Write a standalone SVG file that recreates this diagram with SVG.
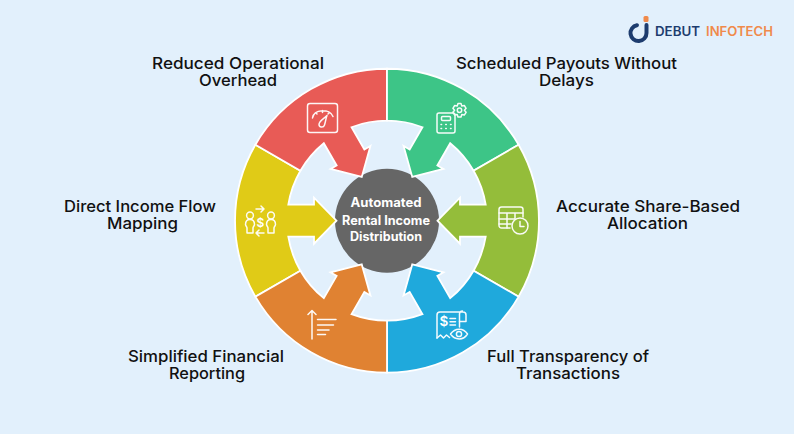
<svg xmlns="http://www.w3.org/2000/svg" width="794" height="434" viewBox="0 0 794 434">
<style>
.seg{stroke:#fff;stroke-width:1.8;stroke-linejoin:miter}
.lab{font-family:"Inter","Liberation Sans",sans-serif;font-size:16px;font-weight:500;fill:#111;text-anchor:middle}
.ctr{font-family:"Inter","Liberation Sans",sans-serif;font-size:12.5px;font-weight:700;fill:#fff;text-anchor:middle}
.ic{fill:none;stroke:#fff;stroke-width:1.5;stroke-linecap:round;stroke-linejoin:round;opacity:.95}
.sym{font-family:"Inter","Liberation Sans",sans-serif;font-weight:600;fill:#fff;text-anchor:middle}
.logo{font-family:"Inter","Liberation Sans",sans-serif;font-size:12.5px;font-weight:600}
</style>
<defs>
<path id="seg" d="M-131.6-76A152 152 0 0 0-131.6 76L-86.6 50A100 100 0 0 1-98.7 16H-73V23L-50.5 0-73-23V-16H-98.7A100 100 0 0 1-86.6-50Z"/>
</defs>
<rect width="794" height="434" fill="#E2F0FC"/>
<g id="logo">
<path d="M637 25.2A8 8 0 1 0 646.500 33V25" fill="none" stroke="#1D3C6E" stroke-width="4" stroke-linecap="round"/>
<rect x="643.500" y="16" width="5" height="6" rx="1.500" fill="#F08A4B"/>
<text class="logo" x="655" y="35.500" fill="#1D3C6E" textLength="45" lengthAdjust="spacingAndGlyphs">DEBUT</text>
<text class="logo" x="706" y="35.500" fill="#F08A4B" textLength="67" lengthAdjust="spacingAndGlyphs">INFOTECH</text>
</g>
<g id="center">
<circle cx="387" cy="220.700" r="52" fill="#666"/>
<text class="ctr" x="386" y="207" textLength="71" lengthAdjust="spacingAndGlyphs">Automated</text>
<text class="ctr" x="386" y="224.500" textLength="88" lengthAdjust="spacingAndGlyphs">Rental Income</text>
<text class="ctr" x="386" y="241" textLength="72" lengthAdjust="spacingAndGlyphs">Distribution</text>
</g>
<g id="node-direct">
<use href="#seg" class="seg" fill="#E0CB17" transform="translate(387 220.700)"/>
<g class="ic">
<circle cx="250" cy="215.500" r="3.400"/>
<path d="M245.500 224.500c0-3.500 2-5 4.500-5s4.500 1.500 4.500 5c0 1.500-1.500 2-1.500 3.500v5h-6v-5c0-1.500-1.500-2-1.500-3.500z"/>
<circle cx="271" cy="215.500" r="3.400"/>
<path d="M266.500 224.500c0-3.500 2-5 4.500-5s4.500 1.500 4.500 5c0 1.500-1.500 2-1.500 3.500v5h-6v-5c0-1.500-1.500-2-1.500-3.500z"/>
<path d="M256 209h8M261 206l3 3-3 3M264 233h-8M259 230l-3 3 3 3"/>
</g>
<text class="sym" x="260.500" y="226.500" font-size="12">$</text>
<text class="lab" x="140" y="212" textLength="152" lengthAdjust="spacingAndGlyphs">Direct Income Flow</text>
<text class="lab" x="142.500" y="229" textLength="71" lengthAdjust="spacingAndGlyphs">Mapping</text>
</g>
<g id="node-overhead">
<use href="#seg" class="seg" fill="#E85B56" transform="translate(387 220.700) rotate(60)"/>
<g class="ic">
<rect x="307.500" y="103.500" width="30" height="29" rx="2.500"/>
<path d="M312.500 118C314 108.500 330 108.500 333 116.500M322.500 110.500V112.500M316 113l1 1M329 113l-1 1"/>
<path d="M327 115.500C325 118 319 121 319 124.500 319 127.500 323.500 128 324.500 125 325.500 122 326 118 327 115.500Z"/>
</g>
<text class="lab" x="238" y="69" textLength="172" lengthAdjust="spacingAndGlyphs">Reduced Operational</text>
<text class="lab" x="238" y="86" textLength="78" lengthAdjust="spacingAndGlyphs">Overhead</text>
</g>
<g id="node-payouts">
<use href="#seg" class="seg" fill="#3DC587" transform="translate(387 220.700) rotate(120)"/>
<g class="ic">
<rect x="437" y="113" width="18" height="20" rx="2"/>
<rect x="441.500" y="116.500" width="9" height="4" rx="1"/>
<path d="M441 124.500h.6M445.700 124.500h.6M450.500 124.500h.6M441 128.500h.6M445.700 128.500h.6M450.500 128.500h.6"/>
<path d="M458 103.500l3 0 .8 2.500 2.500-.5 1.800 2.800-1.700 2 1.700 2-1.800 2.800-2.500-.5-.8 2.500-3 0-.8-2.500-2.500.5-1.800-2.800 1.700-2-1.700-2 1.800-2.800 2.500.5z"/>
<circle cx="459.500" cy="110.300" r="2.200"/>
</g>
<text class="lab" x="566.500" y="69" textLength="221" lengthAdjust="spacingAndGlyphs">Scheduled Payouts Without</text>
<text class="lab" x="566.500" y="86" textLength="55" lengthAdjust="spacingAndGlyphs">Delays</text>
</g>
<g id="node-allocation">
<use href="#seg" class="seg" fill="#94BD3A" transform="translate(387 220.700) rotate(180)"/>
<g class="ic">
<path d="M510 228H501.500A2.500 2.500 0 0 1 499 225.500V209.500A2.500 2.500 0 0 1 501.500 207H520.500A2.500 2.500 0 0 1 523 209.500V217"/>
<path d="M499 213H523M499 219H514M499 224H511M507 213V228M515 213V219"/>
<circle cx="520" cy="226" r="8" fill="#94BD3A"/>
<path d="M520 221.500V226.500H524"/>
</g>
<text class="lab" x="648" y="212" textLength="184" lengthAdjust="spacingAndGlyphs">Accurate Share-Based</text>
<text class="lab" x="647.500" y="229" textLength="81" lengthAdjust="spacingAndGlyphs">Allocation</text>
</g>
<g id="node-transparency">
<use href="#seg" class="seg" fill="#1FA9DC" transform="translate(387 220.700) rotate(240)"/>
<g class="ic">
<path d="M437 338V315A3 3 0 0 1 440 312H463A3 3 0 0 1 466 315V321.500H459.500V314A3 3 0 0 1 462.500 311"/>
<path d="M459.500 321.500V327M437 338l3.500-3 3 3 3-3 3 2.500"/>
<path d="M450 318.500h5.500M450 321.700h5.500M450 325h5.500"/>
<path d="M450.500 334C455 327.500 463.500 327.500 467.500 334 463.500 340.500 455 340.500 450.500 334Z"/>
<circle cx="459" cy="334" r="2.600"/>
</g>
<text class="sym" x="444" y="326" font-size="13.500">$</text>
<text class="lab" x="568" y="362" textLength="162" lengthAdjust="spacingAndGlyphs">Full Transparency of</text>
<text class="lab" x="568" y="379" textLength="104" lengthAdjust="spacingAndGlyphs">Transactions</text>
</g>
<g id="node-reporting">
<use href="#seg" class="seg" fill="#E08232" transform="translate(387 220.700) rotate(300)"/>
<g class="ic">
<path d="M312 339V310.500M308 314.500L312 310.500 316 314.500"/>
<path d="M317.500 319.500H336M317.500 325H333.500M317.500 330H329M317.500 334.500H325.500"/>
</g>
<text class="lab" x="206" y="362" textLength="156" lengthAdjust="spacingAndGlyphs">Simplified Financial</text>
<text class="lab" x="207" y="379" textLength="76" lengthAdjust="spacingAndGlyphs">Reporting</text>
</g>
</svg>
